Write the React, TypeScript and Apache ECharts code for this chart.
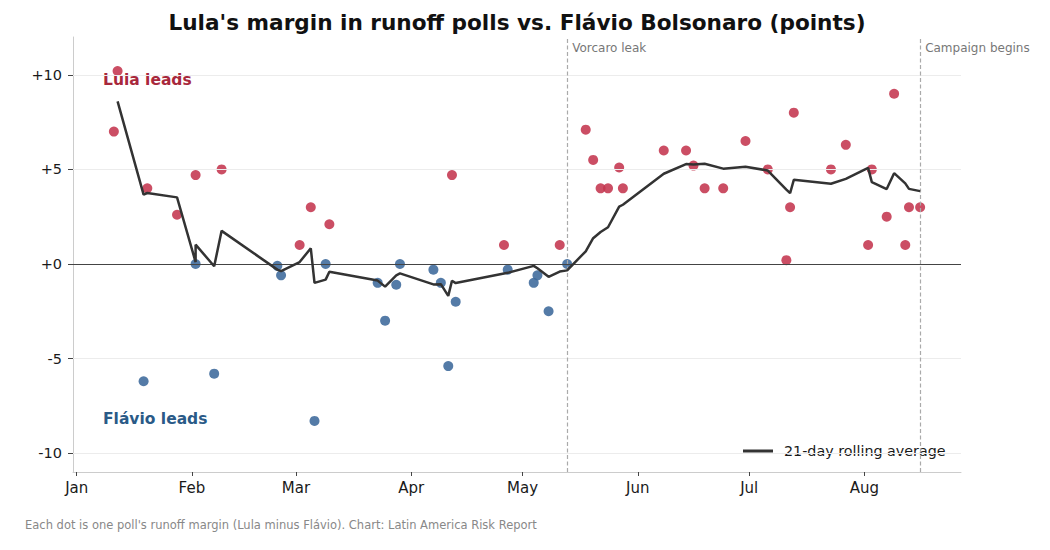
import { useEffect, useRef } from "react";
import * as echarts from "echarts";

const FONT = "DejaVu Sans";

// one row per poll, sorted by field date
const pollDates = [
  "2026-01-11", "2026-01-12", "2026-01-19", "2026-01-20", "2026-01-28",
  "2026-02-02", "2026-02-02", "2026-02-07", "2026-02-09", "2026-02-24",
  "2026-02-25", "2026-03-02", "2026-03-05", "2026-03-06", "2026-03-09",
  "2026-03-10", "2026-03-23", "2026-03-25", "2026-03-28", "2026-03-29",
  "2026-04-07", "2026-04-09", "2026-04-11", "2026-04-12", "2026-04-13",
  "2026-04-26", "2026-04-27", "2026-05-04", "2026-05-05", "2026-05-08",
  "2026-05-11", "2026-05-13", "2026-05-18", "2026-05-20", "2026-05-22",
  "2026-05-24", "2026-05-27", "2026-05-28", "2026-06-08", "2026-06-14",
  "2026-06-16", "2026-06-19", "2026-06-24", "2026-06-30", "2026-07-06",
  "2026-07-11", "2026-07-12", "2026-07-13", "2026-07-23", "2026-07-27",
  "2026-08-02", "2026-08-03", "2026-08-07", "2026-08-09", "2026-08-12",
  "2026-08-13", "2026-08-16",
];

const pollMargins = [
  7.0, 10.2, -6.2, 4.0, 2.6,
  0.0, 4.7, -5.8, 5.0, -0.1,
  -0.6, 1.0, 3.0, -8.3, 0.0,
  2.1, -1.0, -3.0, -1.1, 0.0,
  -0.3, -1.0, -5.4, 4.7, -2.0,
  1.0, -0.3, -1.0, -0.6, -2.5,
  1.0, 0.0, 7.1, 5.5, 4.0,
  4.0, 5.1, 4.0, 6.0, 6.0,
  5.2, 4.0, 4.0, 6.5, 5.0,
  0.2, 3.0, 8.0, 5.0, 6.3,
  1.0, 5.0, 2.5, 9.0, 1.0,
  3.0, 3.0,
];

// rolling average, one value per poll from the second poll on
const rollingAvg = [
  8.6, 3.67, 3.75, 3.52,
  0.1, 1.02, -0.12, 1.75, -0.3,
  -0.38, 0.1, 0.83, -1.0, -0.83,
  -0.41, -0.88, -1.2, -0.6, -0.5,
  -1.08, -1.07, -1.69, -0.89, -1.01,
  -0.5, -0.47, -0.1, -0.23, -0.68,
  -0.4, -0.34, 0.67, 1.36, 1.69,
  1.94, 3.03, 3.13, 4.77, 5.28,
  5.26, 5.3, 5.04, 5.14, 4.94,
  3.93, 3.74, 4.45, 4.24, 4.5,
  5.08, 4.33, 3.96, 4.8, 4.26,
  3.97, 3.85,
];

const monthTicks = ["2026-01-01", "2026-02-01", "2026-03-01", "2026-04-01", "2026-05-01", "2026-06-01", "2026-07-01", "2026-08-01"];
const monthLabels = ["Jan", "Feb", "Mar", "Apr", "May", "Jun", "Jul", "Aug"];

const yTicks = [-10, -5, 0, 5, 10];
const yTickLabels = ["-10", "-5", "+0", "+5", "+10"];

const eventDates = ["2026-05-13", "2026-08-16"];
const eventLabels = ["Vorcaro leak", "Campaign begins"];

const xMin = "2025-12-31";
const xMax = "2026-08-27";

const RED = "#c4354f";
const BLUE = "#3c699b";

function ts(s: string): number {
  const [y, m, d] = s.split("-").map(Number);
  return new Date(y, m - 1, d).getTime();
}

export default function App() {
  const ref = useRef<HTMLDivElement>(null);

  useEffect(() => {
    if (!ref.current) return;
    const chart = echarts.init(ref.current, null, { renderer: "svg" });

    const tickTs = monthTicks.map(ts);
    const pts = pollDates.map((d, i) => [ts(d), pollMargins[i]]);
    const rolling = rollingAvg.map((v, i) => [ts(pollDates[i + 1]), v]);

    const grid = (v: number) => ({ yAxis: v, lineStyle: { color: "#ececec", width: 1, type: "solid" } });

    chart.setOption({
      animation: false,
      textStyle: { fontFamily: FONT },
      grid: { left: 73, right: 89, top: 37, bottom: 78 },
      legend: {
        data: ["21-day rolling average"],
        left: 739,
        top: 440,
        padding: [4, 4, 4, 4],
        backgroundColor: "#ffffff",
        icon: "path://M0 0 H30 V3 H0 Z",
        itemWidth: 30,
        itemHeight: 3,
        itemStyle: { color: "#333333", borderWidth: 0 },
        textStyle: { fontFamily: FONT, fontSize: 14.3, color: "#1a1a1a", padding: [0, 0, 0, 6] },
      },
      xAxis: {
        type: "value",
        min: ts(xMin),
        max: ts(xMax),
        axisLine: { show: true, onZero: false, lineStyle: { color: "#cccccc", width: 1 } },
        axisTick: { show: true, length: 4, lineStyle: { color: "#444" }, customValues: tickTs },
        axisLabel: {
          customValues: tickTs,
          formatter: (v: number) => monthLabels[tickTs.indexOf(v)] ?? "",
          fontSize: 15,
          color: "#1a1a1a",
          margin: 8,
        },
        splitLine: { show: false },
      },
      yAxis: {
        type: "value",
        min: -11,
        max: 12,
        axisLine: { show: true, onZero: false, lineStyle: { color: "#cccccc", width: 1 } },
        axisTick: { show: true, length: 5, lineStyle: { color: "#444" }, customValues: yTicks },
        axisLabel: {
          customValues: yTicks,
          formatter: (v: number) => yTickLabels[yTicks.indexOf(v)] ?? "",
          fontSize: 14.5,
          color: "#1a1a1a",
          margin: 11,
        },
        splitLine: { show: false },
      },
      series: [
        {
          type: "line",
          name: "_ref",
          data: [],
          z: 1,
          markLine: {
            silent: true,
            symbol: ["none", "none"],
            label: { show: false },
            data: [
              grid(-10), grid(-5), grid(5), grid(10),
              { yAxis: 0, lineStyle: { color: "#444", width: 1, type: "solid" } },
              ...eventDates.map((d) => ({ xAxis: ts(d), lineStyle: { color: "#aaaaaa", width: 1.2, type: [4, 2.5] } })),
            ],
          },
        },
        {
          type: "scatter",
          name: "Lula",
          data: pts.filter((p) => p[1] > 0),
          symbolSize: 10,
          itemStyle: { color: RED, opacity: 0.88 },
          z: 3,
        },
        {
          type: "scatter",
          name: "Flávio",
          data: pts.filter((p) => p[1] <= 0),
          symbolSize: 10,
          itemStyle: { color: BLUE, opacity: 0.88 },
          z: 3,
        },
        {
          type: "line",
          name: "21-day rolling average",
          data: rolling,
          symbol: "none",
          color: "#333333",
          lineStyle: { color: "#333333", width: 2.5 },
          z: 5,
        },
      ],
    });

    const eventX = eventDates.map((d) => chart.convertToPixel({ xAxisIndex: 0 }, ts(d)) as number);

    chart.setOption({
      graphic: [
        {
          type: "text", x: 517, y: 22,
          style: { text: "Lula's margin in runoff polls vs. Flávio Bolsonaro (points)", font: `bold 21.6px ${FONT}`, fill: "#111", align: "center", verticalAlign: "middle" },
        },
        {
          type: "text", x: 103, y: 80,
          style: { text: "Lula leads", font: `bold 15.5px ${FONT}`, fill: "#a8283c", verticalAlign: "middle" },
        },
        {
          type: "text", x: 103, y: 419,
          style: { text: "Flávio leads", font: `bold 15.5px ${FONT}`, fill: "#2a5a87", verticalAlign: "middle" },
        },
        ...eventX.map((x, i) => ({
          type: "text", x: x + 5, y: 48,
          style: { text: eventLabels[i], font: `12px ${FONT}`, fill: "#777", verticalAlign: "middle" },
        })),
        {
          type: "text", x: 25, y: 525,
          style: { text: "Each dot is one poll's runoff margin (Lula minus Flávio). Chart: Latin America Risk Report", font: `11.5px ${FONT}`, fill: "#888", verticalAlign: "middle" },
        },
      ],
    });

    return () => chart.dispose();
  }, []);

  return <div ref={ref} style={{ position: "fixed", left: 0, top: 0, width: 1050, height: 550, background: "#fff" }} />;
}
